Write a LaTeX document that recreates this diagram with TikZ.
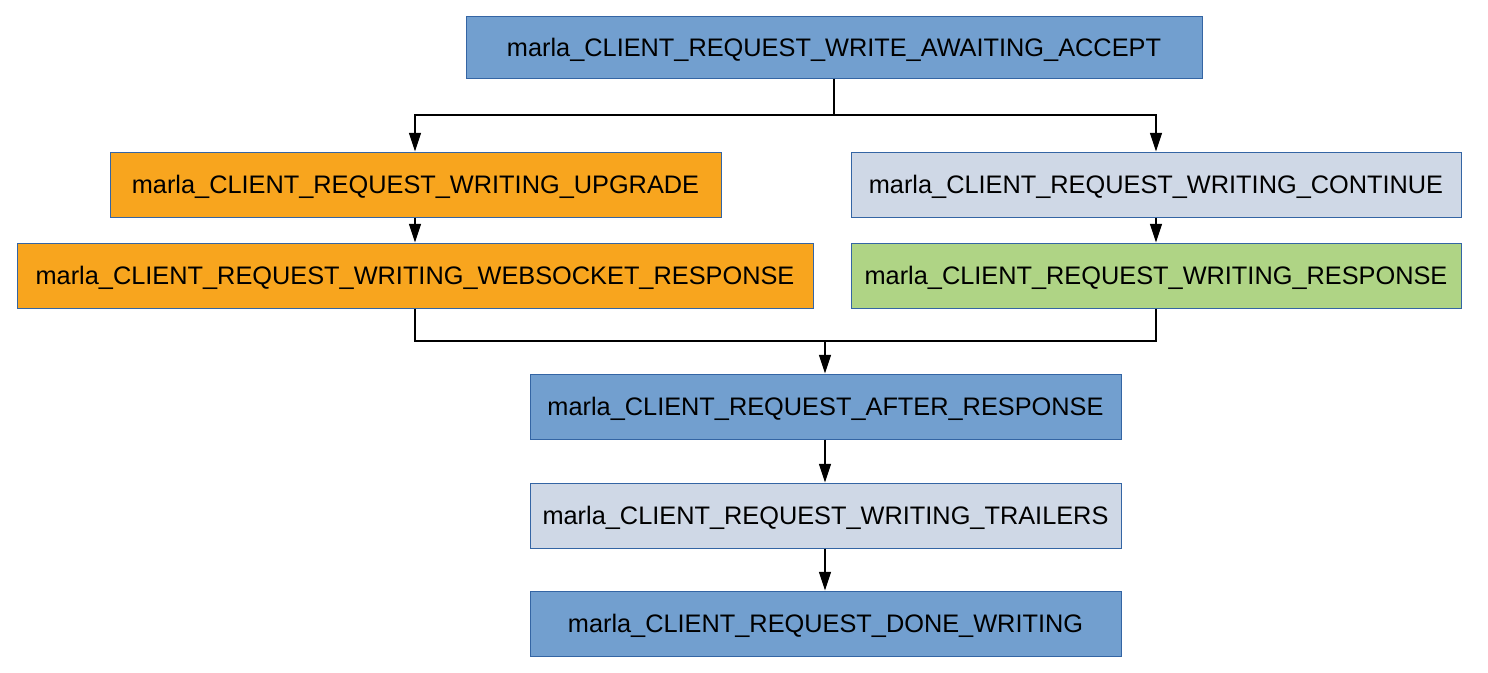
\documentclass[tikz,border=0pt]{standalone}
\usepackage{fontspec}
\setmainfont{Liberation Sans}
\usetikzlibrary{arrows.meta}
\definecolor{cblue}{HTML}{729FCF}
\definecolor{corange}{HTML}{F8A51E}
\definecolor{cgrey}{HTML}{CFD8E6}
\definecolor{cgreen}{HTML}{AFD485}
\definecolor{cborder}{HTML}{3465A4}
\tikzset{
  box/.style={draw=cborder, line width=0.75pt, inner sep=0pt, font=\fontsize{19pt}{22pt}\selectfont, text=black, text height=13.6pt, text depth=0pt},
  conn/.style={draw=black, line width=0.9pt},
  arr/.style={conn, -{Triangle[length=14pt, width=9pt]}}
}
\begin{document}
\begin{tikzpicture}[x=0.75pt, y=-0.75pt]
\useasboundingbox (0,0) rectangle (1488,672);
\node[box, fill=cblue, minimum width=736*0.75pt, minimum height=62*0.75pt] (awa) at (834,47) {marla\_CLIENT\_REQUEST\_WRITE\_AWAITING\_ACCEPT};
\node[box, fill=corange, minimum width=611*0.75pt, minimum height=65*0.75pt] (upg) at (415.5,184.5) {marla\_CLIENT\_REQUEST\_WRITING\_UPGRADE};
\node[box, fill=corange, minimum width=796*0.75pt, minimum height=65*0.75pt] (ws) at (415,275.5) {marla\_CLIENT\_REQUEST\_WRITING\_WEBSOCKET\_RESPONSE};
\node[box, fill=cgrey, minimum width=610*0.75pt, minimum height=65*0.75pt] (cont) at (1156,184.5) {marla\_CLIENT\_REQUEST\_WRITING\_CONTINUE};
\node[box, fill=cgreen, minimum width=610*0.75pt, minimum height=65*0.75pt] (resp) at (1156,275.5) {marla\_CLIENT\_REQUEST\_WRITING\_RESPONSE};
\node[box, fill=cblue, minimum width=591*0.75pt, minimum height=65*0.75pt] (after) at (825.5,406.5) {marla\_CLIENT\_REQUEST\_AFTER\_RESPONSE};
\node[box, fill=cgrey, minimum width=591*0.75pt, minimum height=65*0.75pt] (trail) at (825.5,515.5) {marla\_CLIENT\_REQUEST\_WRITING\_TRAILERS};
\node[box, fill=cblue, minimum width=591*0.75pt, minimum height=65*0.75pt] (done) at (825.5,623.5) {marla\_CLIENT\_REQUEST\_DONE\_WRITING};
\coordinate (split) at (834,115);
\coordinate (join) at (825,341);
\draw[conn] (awa.south) -- (split);
\draw[arr] (split) -| (upg.north -| 415,0);
\draw[arr] (split) -| (cont.north);
\draw[arr] (upg.south -| ws.south) -- (ws.north);
\draw[arr] (cont.south) -- (resp.north);
\draw[conn] (ws.south) |- (join);
\draw[conn] (resp.south) |- (join);
\draw[arr] (join) -- (join |- after.north);
\draw[arr] (after.south -| join) -- (trail.north -| join);
\draw[arr] (trail.south -| join) -- (done.north -| join);
\end{tikzpicture}
\end{document}
